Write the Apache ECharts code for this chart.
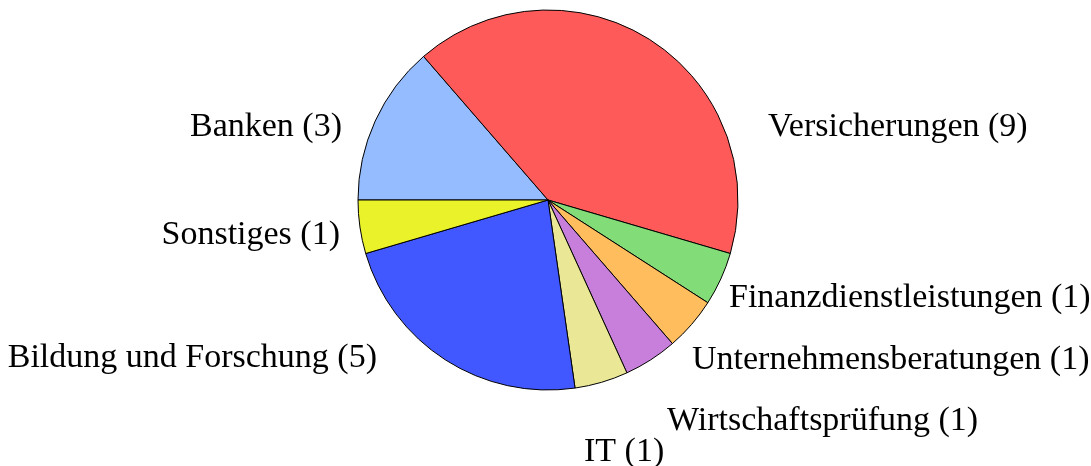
<!DOCTYPE html>
<html>
<head>
<meta charset="utf-8">
<script src="https://cdn.jsdelivr.net/npm/echarts@6/dist/echarts.min.js"></script>
<style>
  html, body { margin: 0; padding: 0; background: #fff; }
  #chart { width: 1091px; height: 466px; }
</style>
</head>
<body>
<div id="chart"></div>
<script>
// Branchen und Anzahl (Reihenfolge im Uhrzeigersinn ab 9 Uhr)
const categories = [
  'Banken',
  'Versicherungen',
  'Finanzdienstleistungen',
  'Unternehmensberatungen',
  'Wirtschaftsprüfung',
  'IT',
  'Bildung und Forschung',
  'Sonstiges'
]
const counts = [3, 9, 1, 1, 1, 1, 5, 1]

// Farben der Segmente
const sliceColors = [
  '#94bcff', '#ff5a5a', '#82dc78', '#ffbd5e',
  '#c77fdb', '#eae896', '#4157ff', '#eaf22a'
]
// Beschriftung: Ankerpunkt + Ausrichtung
const labelAnchors = [
  [342, 127, 'right'],
  [768, 127, 'left'],
  [729, 298, 'left'],
  [692, 360, 'left'],
  [667, 421, 'left'],
  [584, 452, 'left'],
  [377, 358, 'right'],
  [340, 235, 'right']
]

const chart = echarts.init(document.getElementById('chart'), null, { renderer: 'canvas' })

const option = {
  animation: false,
  backgroundColor: '#fff',
  series: [
    {
      type: 'pie',
      center: [548, 200],
      radius: 190,
      startAngle: 180,
      clockwise: true,
      avoidLabelOverlap: false,
      emphasis: { disabled: true },
      itemStyle: {
        borderColor: '#000',
        borderWidth: 1
      },
      label: {
        show: true,
        position: 'outside',
        formatter: '{b} ({c})',
        color: '#000',
        fontFamily: 'Liberation Serif',
        fontSize: 34
      },
      labelLine: { show: false },
      labelLayout: function (params) {
        const a = labelAnchors[params.dataIndex]
        return { x: a[0], y: a[1], align: a[2], verticalAlign: 'middle' }
      },
      data: categories.map((name, i) => ({
        name: name,
        value: counts[i],
        itemStyle: { color: sliceColors[i] }
      }))
    }
  ]
}

chart.setOption(option)
</script>
</body>
</html>
